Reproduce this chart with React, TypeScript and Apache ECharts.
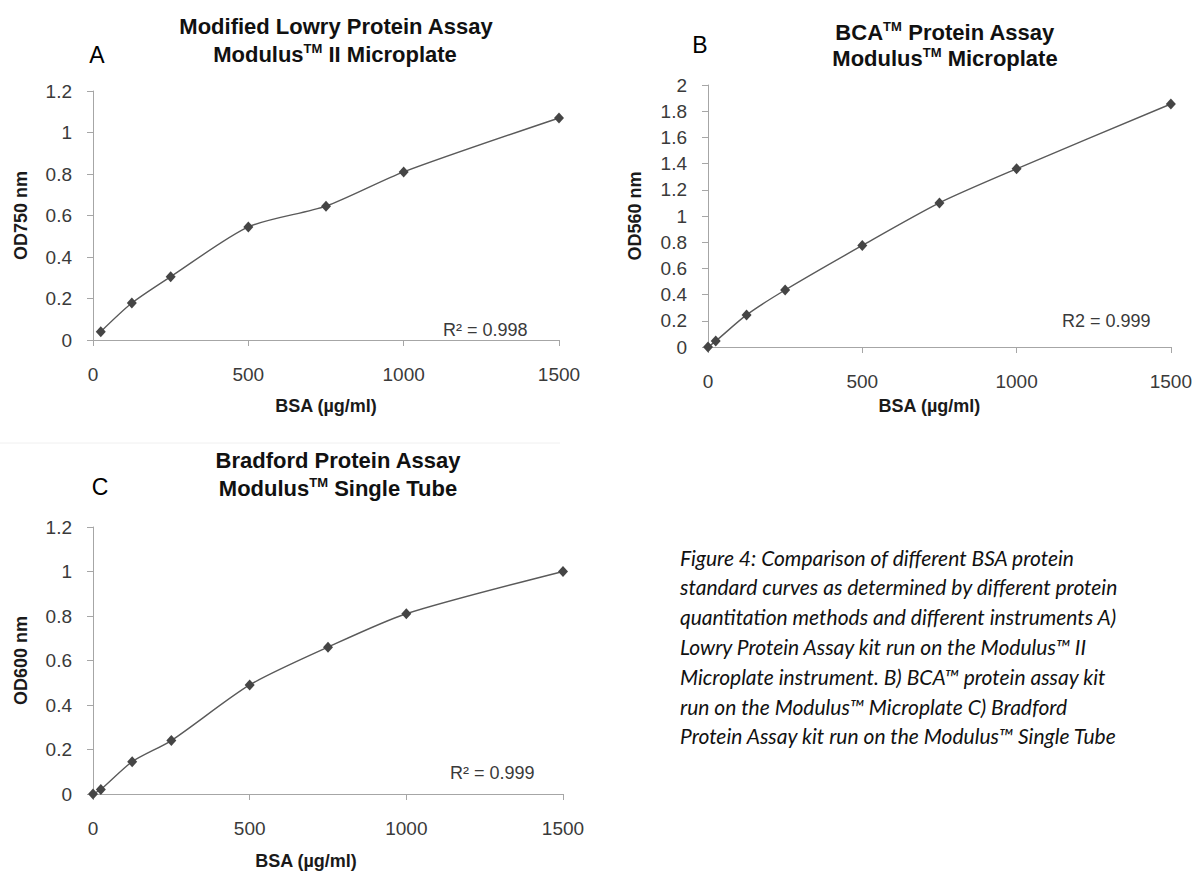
import React, { useEffect, useRef } from "react";
import * as echarts from "echarts";

// ---- data ----
const lowryX = [25, 125, 250, 500, 750, 1000, 1500];
const lowryY = [0.04, 0.178, 0.305, 0.545, 0.645, 0.81, 1.07];
const bcaX = [0, 25, 125, 250, 500, 750, 1000, 1500];
const bcaY = [0, 0.045, 0.245, 0.435, 0.775, 1.1, 1.36, 1.855];
const bradX = [0, 25, 125, 250, 500, 750, 1000, 1500];
const bradY = [0, 0.02, 0.145, 0.24, 0.49, 0.66, 0.81, 1.0];

const xMax = 1500;
const xStep = 500;
const yMaxA = 1.2;
const yMaxB = 2;
const yMaxC = 1.2;
const yStep = 0.2;

const xName = "BSA (µg/ml)";
const yNames = ["OD750 nm", "OD560 nm", "OD600 nm"];
const r2Labels = ["R² = 0.998", "R2 = 0.999", "R² = 0.999"];
const captionLines = [
  "Figure 4: Comparison of different BSA protein",
  "standard curves as determined by different protein",
  "quantitation methods and different instruments A)",
  "Lowry Protein Assay kit run on the Modulus™ II",
  "Microplate instrument. B) BCA™ protein assay kit",
  "run on the Modulus™ Microplate C) Bradford",
  "Protein Assay kit run on the Modulus™ Single Tube",
];

const pairs = (xs: number[], ys: number[]) => xs.map((x, i) => [x, ys[i]]);

export default function App() {
  const ref = useRef<HTMLDivElement>(null);
  useEffect(() => {
    if (!ref.current) return;
    const chart = echarts.init(ref.current, null, { renderer: "svg" });
    const font = "'Liberation Sans', Arial, sans-serif";
    const axisGray = "#a6a6a6";
    const labelColor = "#3a3a3a";

    const grids = [
      { left: 93, top: 91, width: 466, height: 249 },
      { left: 708, top: 85, width: 465, height: 262 },
      { left: 93, top: 527, width: 470, height: 267 },
    ];
    const yMaxes = [yMaxA, yMaxB, yMaxC];
    const xNameGaps = [57, 50, 58];
    const xNamePad = [
      [0, 0, 0, 0],
      [0, 20, 0, 0],
      [0, 44, 0, 0],
    ];

    const xAxes = grids.map((_, i) => ({
      type: "value",
      gridIndex: i,
      min: 0,
      max: xMax,
      interval: xStep,
      name: xName,
      nameLocation: "middle",
      nameGap: xNameGaps[i],
      nameTextStyle: {
        fontFamily: font,
        fontWeight: "bold",
        fontSize: 18,
        color: "#1a1a1a",
        padding: xNamePad[i],
      },
      axisLine: { show: true, lineStyle: { color: axisGray, width: 1 } },
      axisTick: { show: true, length: 6, inside: false, lineStyle: { color: axisGray } },
      axisLabel: {
        fontFamily: font,
        fontSize: 19,
        color: labelColor,
        margin: 25,
        formatter: (v: number) => String(v),
      },
      splitLine: { show: false },
    }));

    const yAxes = grids.map((_, i) => ({
      type: "value",
      gridIndex: i,
      min: 0,
      max: yMaxes[i],
      interval: yStep,
      name: yNames[i],
      nameLocation: "middle",
      nameGap: i === 1 ? 64 : 63,
      nameTextStyle: {
        fontFamily: font,
        fontWeight: "bold",
        fontSize: 18,
        color: "#1a1a1a",
      },
      axisLine: { show: true, lineStyle: { color: axisGray, width: 1 } },
      axisTick: { show: true, length: 6, inside: false, lineStyle: { color: axisGray } },
      axisLabel: {
        fontFamily: font,
        fontSize: 19,
        color: labelColor,
        margin: 21,
        formatter: (v: number) => String(Math.round(v * 10) / 10),
      },
      splitLine: { show: false },
    }));

    const datasets = [pairs(lowryX, lowryY), pairs(bcaX, bcaY), pairs(bradX, bradY)];
    const series = datasets.map((d, i) => ({
      type: "line",
      xAxisIndex: i,
      yAxisIndex: i,
      data: d,
      smooth: 0.25,
      symbol: "diamond",
      symbolSize: [10, 11],
      itemStyle: { color: "#454545" },
      lineStyle: { color: "#5a5a5a", width: 1.4 },
      silent: true,
    }));

    const titleStyle = (text: string) => ({
      text,
      fontFamily: font,
      fontWeight: "bold",
      fontSize: 22,
      fill: "#111",
      align: "center",
      verticalAlign: "middle",
      rich: {
        tm: {
          fontFamily: font,
          fontWeight: "bold",
          fontSize: 13,
          fill: "#111",
          verticalAlign: "top",
          lineHeight: 24,
        },
      },
    });

    const t = (x: number, y: number, text: string) => ({
      type: "text",
      x,
      y,
      silent: true,
      style: titleStyle(text),
    });

    const letter = (x: number, y: number, text: string) => ({
      type: "text",
      x,
      y,
      silent: true,
      style: {
        text,
        fontFamily: font,
        fontSize: 23,
        fill: "#000",
        align: "center",
        verticalAlign: "middle",
      },
    });

    const r2 = (x: number, y: number, text: string) => ({
      type: "text",
      x,
      y,
      silent: true,
      style: {
        text,
        fontFamily: font,
        fontSize: 18,
        fill: labelColor,
        align: "left",
        verticalAlign: "middle",
      },
    });

    const caption = captionLines.map((line, i) => ({
      type: "text",
      x: 680,
      y: 557 + i * 29.8,
      silent: true,
      style: {
        text: line,
        fontFamily: "Lato, 'Open Sans', sans-serif",
        fontStyle: "italic",
        fontSize: 21,
        fill: "#111",
        align: "left",
        verticalAlign: "middle",
      },
    }));

    chart.setOption({
      animation: false,
      backgroundColor: "#ffffff",
      grid: grids.map((g) => ({ ...g, containLabel: false })),
      xAxis: xAxes,
      yAxis: yAxes,
      series,
      graphic: [
        {
          type: "line",
          silent: true,
          shape: { x1: 0, y1: 443, x2: 560, y2: 443 },
          style: { stroke: "#f0f0f0", lineWidth: 1 },
        },
        letter(97, 55, "A"),
        letter(700, 45, "B"),
        letter(100, 487, "C"),
        t(336, 26, "Modified Lowry Protein Assay"),
        t(335, 54, "Modulus{tm|TM} II Microplate"),
        t(945, 32, "BCA{tm|TM} Protein Assay"),
        t(945, 58, "Modulus{tm|TM} Microplate"),
        t(338, 460, "Bradford Protein Assay"),
        t(338, 488, "Modulus{tm|TM} Single Tube"),
        r2(443, 329.5, r2Labels[0]),
        r2(1062, 321, r2Labels[1]),
        r2(450, 773, r2Labels[2]),
        ...caption,
      ],
    });
    return () => chart.dispose();
  }, []);

  return (
    <div
      ref={ref}
      style={{ position: "absolute", left: 0, top: 0, width: 1195, height: 871, background: "#fff" }}
    />
  );
}
